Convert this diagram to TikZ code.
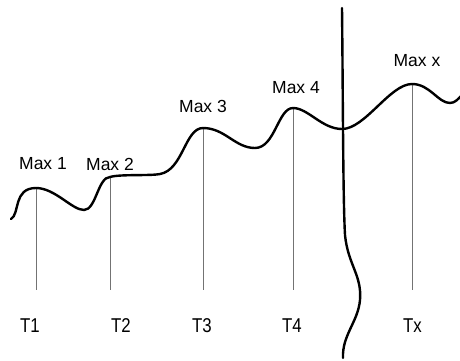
\documentclass[tikz,border=0pt]{standalone}
\usepackage{fontspec}
\setmainfont{Liberation Sans}
\newfontfamily\tfont{Liberation Sans}[FakeStretch=0.84]
\tikzset{
  wave/.style={line width=2.4pt, line cap=round, black},
  tick/.style={line width=0.9pt, black!55},
  lbl/.style={inner sep=0pt, font=\fontsize{17.5}{18}\selectfont},
  tlbl/.style={inner sep=0pt, font=\tfont\fontsize{20}{21}\selectfont},
}
\begin{document}
\begin{tikzpicture}[x=1pt,y=-1pt]
\useasboundingbox (0,0) rectangle (460,360);
% peak coordinates
\coordinate (p1) at (36,188);
\coordinate (p2) at (110,177);
\coordinate (p3) at (203,128);
\coordinate (p4) at (293,108);
\coordinate (px) at (412,84);
\coordinate (b1) at (36,290);
\coordinate (b2) at (110,290);
\coordinate (b3) at (203,290);
\coordinate (b4) at (293,290);
\coordinate (bx) at (412,290);
% ticks
\draw[tick] (p1) -- (b1);
\draw[tick] (p2) -- (b2);
\draw[tick] (p3) -- (b3);
\draw[tick] (p4) -- (b4);
\draw[tick] (px) -- (bx);
% wave
\draw[wave] (11,219) .. controls (20,214) and (13,188) .. (p1)
  .. controls (55,188) and (72,210) .. (84,210)
  .. controls (96,210) and (98,177) .. (p2)
  .. controls (120,174) and (150,176) .. (160,174)
  .. controls (183,170) and (185,128) .. (p3)
  .. controls (225,128) and (235,148) .. (255,148)
  .. controls (275,148) and (278,108) .. (p4)
  .. controls (308,108) and (322,129) .. (342,129)
  .. controls (365,129) and (390,84) .. (px)
  .. controls (430,84) and (438,103) .. (450,103)
  .. controls (455,103) and (458,99) .. (461,96);
% break line
\draw[wave] (342,8) .. controls (343,100) and (343,200) .. (345,235)
  .. controls (348,265) and (362,275) .. (360,300)
  .. controls (358,322) and (342,335) .. (343,358);
% labels
\node[lbl] (m1) at (43,164) {Max 1};
\node[lbl] (m2) at (110,164) {Max 2};
\node[lbl] (m3) at (203,106) {Max 3};
\node[lbl] (m4) at (296,88) {Max 4};
\node[lbl] (mx) at (417,61) {Max x};
\node[tlbl] (t1) at (30,325.5) {T1};
\node[tlbl] (t2) at (121,325.5) {T2};
\node[tlbl] (t3) at (202,325.5) {T3};
\node[tlbl] (t4) at (292,325.5) {T4};
\node[tlbl] (tx) at (412.5,325.5) {Tx};
\end{tikzpicture}
\end{document}
